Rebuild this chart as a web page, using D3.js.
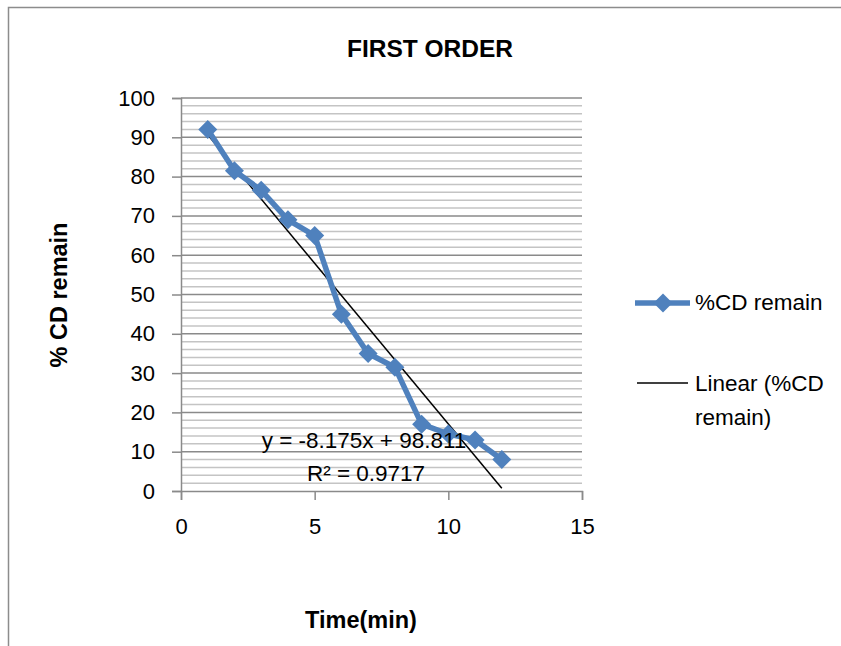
<!DOCTYPE html>
<html>
<head>
<meta charset="utf-8">
<script src="https://cdn.jsdelivr.net/npm/d3@7"></script>
<style>
  body { margin: 0; background: #fff; }
  text { font-family: "Liberation Sans", Arial, sans-serif; fill: #000; }
</style>
</head>
<body>
<svg id="chart" width="841" height="646"></svg>
<script>
// data
const times = [1, 2, 3, 4, 5, 6, 7, 8, 9, 10, 11, 12];
const cdRemain = [92, 81.5, 76.5, 69, 65, 45, 35, 31.5, 17, 14.5, 13, 8];
const xTicks = [0, 5, 10, 15];
const yTicks = [0, 10, 20, 30, 40, 50, 60, 70, 80, 90, 100];
const yMinorTicks = d3.range(0, 101, 2);
// trendline shown on the chart
const slope = -8.175;
const intercept = 98.811;
const r2 = 0.9717;

const svg = d3.select("#chart");
const blue = "#4f81bd";

// chart border
svg.append("rect")
  .attr("x", 8.5).attr("y", 7.5)
  .attr("width", 900).attr("height", 700)
  .attr("fill", "none")
  .attr("stroke", "#8c8c8c")
  .attr("stroke-width", 1.5);

const x = d3.scaleLinear().domain([0, 15]).range([181, 582]);
const y = d3.scaleLinear().domain([0, 100]).range([491, 98]);

// gridlines, minor first
const grid = svg.append("g");
grid.selectAll("line.minor")
  .data(yMinorTicks.filter(d => d % 10 !== 0))
  .join("line")
  .attr("class", "minor")
  .attr("x1", x(0)).attr("x2", x(15))
  .attr("y1", d => y(d)).attr("y2", d => y(d))
  .attr("stroke", "#c4c4c4")
  .attr("stroke-width", 1.5);
grid.selectAll("line.major")
  .data(yTicks.filter(d => d > 0))
  .join("line")
  .attr("class", "major")
  .attr("x1", x(0)).attr("x2", x(15))
  .attr("y1", d => y(d)).attr("y2", d => y(d))
  .attr("stroke", "#8a8a8a")
  .attr("stroke-width", 1.5);

// axes
const yAxis = svg.append("g")
  .attr("transform", "translate(" + x(0) + ",0)")
  .call(d3.axisLeft(y).tickValues(yTicks).tickSize(9).tickPadding(17));
const xAxis = svg.append("g")
  .attr("transform", "translate(0," + y(0) + ")")
  .call(d3.axisBottom(x).tickValues(xTicks).tickSize(9).tickPadding(18));

[yAxis, xAxis].forEach(function (a) {
  a.select(".domain").attr("stroke", "#8a8a8a").attr("stroke-width", 1.5);
  a.selectAll(".tick line").attr("stroke", "#8a8a8a").attr("stroke-width", 1.5);
  a.selectAll(".tick text")
    .attr("font-size", "22px")
    .attr("font-family", "Liberation Sans, Arial, sans-serif")
    .attr("fill", "#000");
});

// trendline
svg.append("line")
  .attr("x1", x(times[0])).attr("y1", y(slope * times[0] + intercept))
  .attr("x2", x(times[times.length - 1]))
  .attr("y2", y(slope * times[times.length - 1] + intercept))
  .attr("stroke", "#000")
  .attr("stroke-width", 1.5);

// series
const line = d3.line()
  .x((d, i) => x(times[i]))
  .y(d => y(d));
svg.append("path")
  .datum(cdRemain)
  .attr("d", line)
  .attr("fill", "none")
  .attr("stroke", blue)
  .attr("stroke-width", 5.5)
  .attr("stroke-linejoin", "round");

const diamond = d3.symbol().type(d3.symbolDiamond2).size(230);
svg.selectAll("path.marker")
  .data(cdRemain)
  .join("path")
  .attr("class", "marker")
  .attr("d", diamond)
  .attr("transform", (d, i) => "translate(" + x(times[i]) + "," + y(d) + ")")
  .attr("fill", blue);

// trendline equation
svg.append("text")
  .attr("x", 364).attr("y", 448)
  .attr("text-anchor", "middle")
  .attr("font-size", "22.5px")
  .text("y = " + slope + "x + " + intercept);
svg.append("text")
  .attr("x", 366).attr("y", 481)
  .attr("text-anchor", "middle")
  .attr("font-size", "22.5px")
  .text("R² = " + r2);

// titles
svg.append("text")
  .attr("x", 430).attr("y", 57)
  .attr("text-anchor", "middle")
  .attr("font-size", "24.5px")
  .attr("font-weight", "bold")
  .text("FIRST ORDER");

svg.append("text")
  .attr("x", 361).attr("y", 628)
  .attr("text-anchor", "middle")
  .attr("font-size", "23.5px")
  .attr("font-weight", "bold")
  .text("Time(min)");

svg.append("text")
  .attr("transform", "translate(67,295) rotate(-90)")
  .attr("text-anchor", "middle")
  .attr("font-size", "23.5px")
  .attr("font-weight", "bold")
  .text("% CD remain");

// legend
const legend = svg.append("g");
legend.append("line")
  .attr("x1", 635).attr("x2", 690)
  .attr("y1", 303).attr("y2", 303)
  .attr("stroke", blue).attr("stroke-width", 5.5);
legend.append("path")
  .attr("d", diamond)
  .attr("transform", "translate(663,303)")
  .attr("fill", blue);
legend.append("text")
  .attr("x", 695).attr("y", 310)
  .attr("font-size", "22.5px")
  .text("%CD remain");

legend.append("line")
  .attr("x1", 637).attr("x2", 688)
  .attr("y1", 383).attr("y2", 383)
  .attr("stroke", "#000").attr("stroke-width", 1.5);
legend.append("text")
  .attr("x", 695).attr("y", 391)
  .attr("font-size", "22.5px")
  .text("Linear (%CD");
legend.append("text")
  .attr("x", 695).attr("y", 425)
  .attr("font-size", "22.5px")
  .text("remain)");
</script>
</body>
</html>
